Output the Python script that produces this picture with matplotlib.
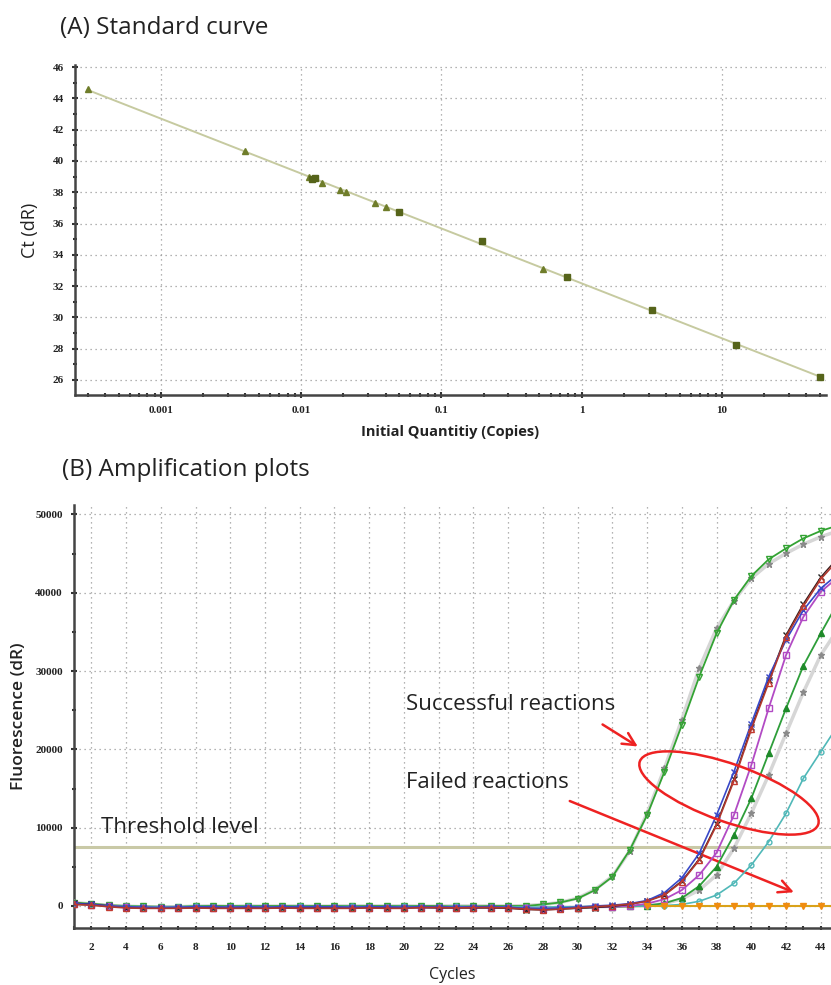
import numpy as np
import matplotlib
matplotlib.use('Agg')
import matplotlib.pyplot as plt
from matplotlib.patches import Ellipse
from matplotlib.ticker import FixedLocator, NullFormatter, LogLocator
import matplotlib.transforms as mtransforms

# (A) standard curve data
qty_tri = [0.0003, 0.004, 0.0114, 0.0141, 0.019, 0.0207, 0.0338, 0.0403, 0.53]
ct_tri = [44.58, 40.65, 38.99, 38.6, 38.14, 38.03, 37.29, 37.07, 33.09]
qty_sq = [0.012, 0.0125, 0.0496, 0.194, 0.79, 3.18, 12.6, 50]
ct_sq = [38.82, 38.9, 36.75, 34.86, 32.6, 30.49, 28.26, 26.17]
qty_ticks = [0.001, 0.01, 0.1, 1, 10]
qty_labels = ['0.001', '0.01', '0.1', '1', '10']
ct_ticks = [26, 28, 30, 32, 34, 36, 38, 40, 42, 44, 46]

# (B) amplification data, cycles 1..45 (45 lies just past the right edge)
cycles = list(range(1, 46))
green_open = [400, 300, 100, 0, -50, -100, -100, 0, 0, 0, 0, 0, 0, 0, 0, 0, 0, 0, 0, 0, 0, 0,
              -50, -50, 0, 0, 0, 200, 450, 950, 2030, 3730, 7140, 11610, 17140, 23100, 29270,
              34810, 39070, 42130, 44270, 45670, 46950, 47900, 48600]
gray_early = [450, 250, 50, -50, -100, -150, -100, -50, 0, -50, 0, -50, 0, 0, -50, 0, 0, 0, 0, 0,
              -50, 0, 0, 0, 0, 0, 50, 200, 450, 1000, 2100, 3800, 7010, 11830, 17570, 23800,
              30340, 35450, 39000, 41840, 43700, 45030, 46200, 47150, 47900]
blue_x = [300, 200, 0, -100, -150, -200, -150, -100, -100, -150, -100, -150, -100, -100, -100,
          -100, -150, -100, -100, -150, -100, -100, -150, -100, -100, -150, -300, -350, -250,
          -150, 0, 100, 300, 700, 1700, 3600, 6720, 11610, 17140, 23300, 29270, 33960, 37790,
          40560, 42400]
red_tri = [200, 100, -100, -250, -300, -300, -300, -250, -300, -300, -300, -300, -250, -300, -300,
           -300, -300, -250, -300, -300, -200, -200, -250, -200, -200, -250, -400, -500, -400,
           -250, -100, 50, 250, 600, 1390, 3090, 5860, 10330, 15990, 22550, 28500, 34380, 38300,
           41750, 44200]
black_x = [350, 250, 0, -200, -250, -250, -250, -200, -250, -250, -250, -200, -250, -250, -200,
           -250, -250, -200, -250, -250, -200, -250, -250, -250, -250, -300, -450, -500, -400,
           -300, -200, -50, 200, 650, 1450, 3200, 6000, 10500, 16200, 22800, 28800, 34600, 38600,
           42000, 44500]
purple_sq = [300, 150, 0, -150, -200, -250, -200, -200, -250, -200, -200, -250, -200, -200, -250,
             -200, -200, -200, -250, -200, -200, -200, -200, -200, -200, -200, -300, -350, -300,
             -200, -150, -100, 0, 300, 870, 2030, 3950, 6800, 11610, 17990, 25240, 32040, 36930,
             40130, 42000]
green_fill = [350, 200, 0, -100, -150, -150, -150, -100, -100, -150, -100, -100, -150, -100, -100,
              -150, -100, -100, -150, -100, -100, -150, -100, -100, -100, -150, -350, -400, -300,
              -200, -150, -100, -50, 50, 350, 1020, 2540, 5010, 9050, 13740, 19490, 25240, 30680,
              34810, 38800]
gray_late = [300, 200, 50, -50, -100, -100, -100, -50, -50, -100, -50, -50, -100, -50, -50, -100,
             -50, -50, -100, -50, -50, -100, -50, -50, -50, -100, -200, -250, -200, -150, -100,
             -50, 0, 50, 300, 900, 2030, 3950, 7360, 11830, 16720, 22040, 27300, 32040, 35400]
cyan_circ = [250, 150, 0, -50, -100, -100, -100, -50, -100, -100, -50, -100, -100, -50, -100,
             -100, -50, -100, -100, -50, -100, -100, -50, -100, -100, -100, -150, -150, -100,
             -100, -50, -50, 0, 0, 50, 200, 600, 1390, 2890, 5220, 8200, 11830, 16300, 19700, 23100]
orange_fail = [200, 100, 0, -100, -100, -100, -100, -100, -100, -100, -100, -100, -100, -100,
               -100, -100, -100, -100, -100, -100, -100, -100, -100, -100, -100, -100, -100, -100,
               -100, -100, -100, -100, -100, -50, -50, -50, -50, -50, -50, -50, -50, -50, -50, -50,
               -50]
threshold = 7500
fluo_ticks = [0, 10000, 20000, 30000, 40000, 50000]
cycle_ticks = list(range(1, 45))
cycle_labels = list(range(2, 45, 2))

W, H = 831, 985
fig = plt.figure(figsize=(W / 100, H / 100), dpi=100)
px = mtransforms.Affine2D().scale(0.01, -0.01).translate(0, H / 100) + fig.dpi_scale_trans

lab_font = ['Open Sans', 'DejaVu Sans']
tick_font = ['Liberation Serif', 'DejaVu Serif']
grid_kw = dict(color='#9a9a9a', linestyle=(0, (1, 3)), linewidth=0.9)

def style_axes(ax):
    for s in ['top', 'right']:
        ax.spines[s].set_visible(False)
    for s in ['left', 'bottom']:
        ax.spines[s].set_color('#444444')
        ax.spines[s].set_linewidth(1.8)
    ax.tick_params(which='both', direction='inout', color='#333333', width=1.5)
    ax.tick_params(which='major', length=4, labelsize=8, pad=6)
    ax.tick_params(which='minor', length=3)
    for t in ax.get_xticklabels() + ax.get_yticklabels():
        t.set_family(tick_font)
        t.set_weight('bold')
        t.set_color('#222222')

# ---------- (A) standard curve ----------
ax1 = fig.add_axes([75 / W, 1 - 395 / H, 751 / W, 330 / H])
ax1.set_xscale('log')
ax1.set_xlim(10 ** -3.613, 10 ** 1.742)
ax1.set_ylim(25.04, 46.13)
all_q = np.array(qty_tri + qty_sq)
all_c = np.array(ct_tri + ct_sq)
slope, icpt = np.polyfit(np.log10(all_q), all_c, 1)
qline = np.array([all_q.min(), all_q.max()])
ax1.plot(qline, slope * np.log10(qline) + icpt, color='#c6caa0', lw=1.4, zorder=2)
ax1.plot(qty_tri, ct_tri, linestyle='none', marker='^', ms=4.5, color='#6f7d2a', zorder=3)
ax1.plot(qty_sq, ct_sq, linestyle='none', marker='s', ms=4.5, color='#56641a', zorder=3)
ax1.set_xticks(qty_ticks)
ax1.set_xticklabels(qty_labels)
ax1.xaxis.set_minor_locator(LogLocator(base=10, subs=np.arange(2, 10), numticks=20))
ax1.xaxis.set_minor_formatter(NullFormatter())
ax1.set_yticks(ct_ticks)
ax1.yaxis.set_minor_locator(FixedLocator(np.arange(25, 46, 2)))
ax1.grid(True, which='major', **grid_kw)
style_axes(ax1)
ax1.set_xlabel('Initial Quantitiy (Copies)', family=lab_font, weight='bold', fontsize=10.5,
               labelpad=7, color='#222222')
ax1.set_ylabel('Ct (dR)', family=lab_font, fontsize=13, labelpad=10, color='#222222')

# ---------- (B) amplification plots ----------
ax2 = fig.add_axes([74 / W, 1 - 928 / H, 757 / W, 423 / H])
ax2.set_xlim(1.08, 44.59)
ax2.set_ylim(-2810, 51210)
ax2.axhline(threshold, color='#c9c9a6', lw=2.2, zorder=2)

ax2.plot(cycles, gray_early, color='#d6d6d6', lw=2.5, marker='*', ms=5, mfc='#8a8a8a',
         mec='#8a8a8a', zorder=3)
ax2.plot(cycles, gray_late, color='#d6d6d6', lw=2.5, marker='*', ms=5, mfc='#8a8a8a',
         mec='#8a8a8a', zorder=3)
ax2.plot(cycles, green_open, color='#33a333', lw=1.3, marker='v', ms=5, mfc='none',
         mec='#33a333', zorder=4)
ax2.plot(cycles, green_fill, color='#2e9e3a', lw=1.3, marker='^', ms=4.5, mfc='#1f8a2a',
         mec='#1f8a2a', zorder=4)
ax2.plot(cycles, cyan_circ, color='#50b8b8', lw=1.2, marker='o', ms=3.5, mfc='none',
         mec='#50b8b8', zorder=4)
ax2.plot(cycles, purple_sq, color='#b24bc4', lw=1.3, marker='s', ms=4.5, mfc='none',
         mec='#b24bc4', zorder=4)
ax2.plot(cycles, black_x, color='#3a1d1d', lw=1.0, marker='x', ms=4, mec='#222222', zorder=4)
ax2.plot(cycles, blue_x, color='#3848c8', lw=1.2, marker='x', ms=4.5, mec='#3848c8', zorder=5)
ax2.plot(cycles, red_tri, color='#b0382e', lw=1.2, marker='^', ms=5, mfc='none',
         mec='#c43a30', zorder=5)
ax2.plot(cycles[33:], orange_fail[33:], color='#d9a21a', lw=1.5, marker='v', ms=5,
         mfc='#f08c10', mec='#f08c10', zorder=5)
ax2.plot(cycles[:34], orange_fail[:34], color='#d9a21a', lw=1.0, zorder=2)

ax2.set_xticks(cycle_ticks)
ax2.set_xticklabels([str(c) if c in cycle_labels else '' for c in cycle_ticks])
ax2.set_yticks(fluo_ticks)
ax2.yaxis.set_minor_locator(FixedLocator([5000, 15000, 25000, 35000, 45000]))
ax2.xaxis.set_minor_locator(FixedLocator([]))
for c in cycle_labels:
    ax2.axvline(c, zorder=0, **grid_kw)
for v in fluo_ticks:
    ax2.axhline(v, zorder=0, **grid_kw)
style_axes(ax2)
ax2.tick_params(axis='x', which='major', length=3, pad=9)
ax2.set_xlabel('Cycles', family=lab_font, fontsize=11.5, labelpad=11, color='#222222')
ax2.set_ylabel('Fluorescence (dR)', family=lab_font, weight='semibold', fontsize=12.5,
               labelpad=6, color='#222222')

# annotations
note = dict(family=lab_font, fontsize=16, color='#222222', va='center', ha='left')
ax2.text(20.1, 25700, 'Successful reactions', **note)
ax2.text(20.1, 15730, 'Failed reactions', **note)
ax2.text(2.57, 9970, 'Threshold level', **note)
arrow = dict(arrowstyle='->,head_length=0.9,head_width=0.45', color='#ee2222', lw=1.8)
ax2.annotate('', xy=(33.6, 20180), xytext=(31.3, 23370), arrowprops=arrow)
ax2.annotate('', xy=(42.6, 1620), xytext=(29.4, 13540), arrowprops=arrow)
ring = Ellipse((729, 793), 2 * 94.6, 2 * 28.8, angle=19.5, transform=px, fill=False,
               edgecolor='#ee2222', lw=1.8, zorder=6)
fig.add_artist(ring)

# panel titles
fig.text(60 / W, 1 - 28 / H, '(A) Standard curve', family=lab_font, fontsize=17.5,
         va='center', ha='left', color='#222222')
fig.text(62 / W, 1 - 470 / H, '(B) Amplification plots', family=lab_font, fontsize=17.5,
         va='center', ha='left', color='#222222')

fig.savefig('out.png', dpi=100)
